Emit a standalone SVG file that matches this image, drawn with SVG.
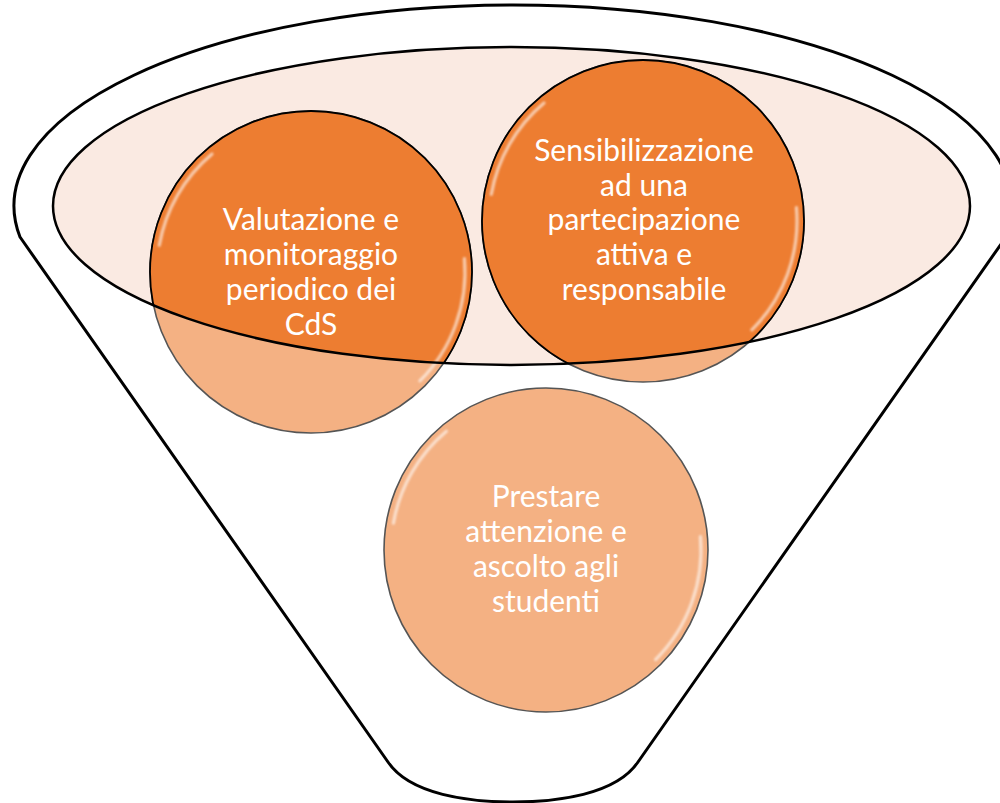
<svg xmlns="http://www.w3.org/2000/svg" width="1000" height="803" viewBox="0 0 1000 803">
<defs>
<style>
.outline{fill:#fff;stroke:#000;stroke-width:3;stroke-linejoin:round}
.rimfill{fill:#FAEAE2;stroke:none}
.rim{fill:none;stroke:#000;stroke-width:2.5}
.light{fill:#F4B183;stroke:#555;stroke-width:1.6}
.dark{fill:#ED7D31;stroke:#000;stroke-width:1.8}
.hl{fill:none;stroke:#fff;stroke-width:3.2;stroke-linecap:round;opacity:0.6;filter:url(#blur)}
.lbl{font-family:Lato,"Liberation Sans",sans-serif;font-size:30px;fill:#fff;text-anchor:middle}
</style>
<filter id="blur" x="-20%" y="-20%" width="140%" height="140%"><feGaussianBlur stdDeviation="1.1"/></filter>
<clipPath id="rimClip"><ellipse cx="511.5" cy="206" rx="458.5" ry="159"/></clipPath>
</defs>
<g id="funnel">
<path class="outline" d="M20,237 A499,201 0 1 1 1006,237 L638,762 C616,795 556,802 513,802 C470,802 410,795 388,762 Z"/>
<ellipse class="rimfill" cx="511.5" cy="206" rx="458.5" ry="159"/>
</g>
<g id="node-valutazione">
<circle class="light" cx="311" cy="272" r="161"/>
<circle class="dark" cx="311" cy="272" r="161" clip-path="url(#rimClip)"/>
<path class="hl" d="M159.3,245.3 A154,154 0 0 1 212,154"/>
<path class="hl" d="M464.4,258.6 A154,154 0 0 1 419.9,380.9"/>
<text class="lbl" x="311" y="230">Valutazione e</text>
<text class="lbl" x="311" y="265">monitoraggio</text>
<text class="lbl" x="311" y="300">periodico dei</text>
<text class="lbl" x="311" y="335">CdS</text>
</g>
<g id="node-sensibilizzazione">
<circle class="light" cx="643" cy="221" r="161"/>
<circle class="dark" cx="643" cy="221" r="161" clip-path="url(#rimClip)"/>
<path class="hl" d="M491.3,194.3 A154,154 0 0 1 544,103"/>
<path class="hl" d="M796.4,207.6 A154,154 0 0 1 751.9,329.9"/>
<text class="lbl" x="644" y="161">Sensibilizzazione</text>
<text class="lbl" x="644" y="196">ad una</text>
<text class="lbl" x="644" y="230">partecipazione</text>
<text class="lbl" x="644" y="265">attiva e</text>
<text class="lbl" x="644" y="300">responsabile</text>
</g>
<g id="node-prestare">
<circle class="light" cx="546" cy="550" r="162"/>
<path class="hl" d="M393.4,523.1 A155,155 0 0 1 446.4,431.3"/>
<path class="hl" d="M700.4,536.5 A155,155 0 0 1 655.6,659.6"/>
<text class="lbl" x="546" y="507">Prestare</text>
<text class="lbl" x="546" y="542">attenzione e</text>
<text class="lbl" x="546" y="577">ascolto agli</text>
<text class="lbl" x="546" y="612">studenti</text>
</g>
<g id="funnel-rim">
<ellipse class="rim" cx="511.5" cy="206" rx="458.5" ry="159"/>
</g>
</svg>
